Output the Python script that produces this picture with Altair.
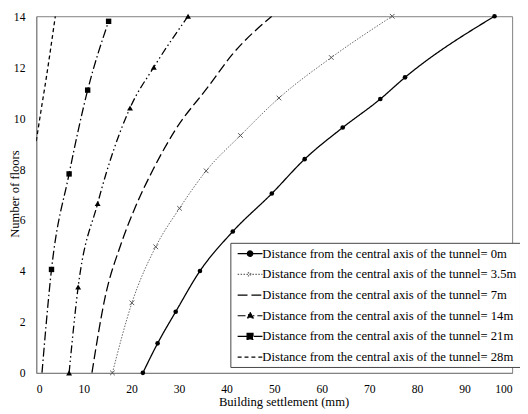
import altair as alt
import pandas as pd

# ---------------- data ----------------
SERIES = [
    "Distance from the central axis of the tunnel= 0m",
    "Distance from the central axis of the tunnel= 3.5m",
    "Distance from the central axis of the tunnel= 7m",
    "Distance from the central axis of the tunnel= 14m",
    "Distance from the central axis of the tunnel= 21m",
    "Distance from the central axis of the tunnel= 28m",
]

S0_X = [22.4, 25.5, 29.3, 34.4, 41.3, 49.5, 56.4, 64.4, 72.3, 77.5, 96.3]
S0_Y = [0.0, 1.16, 2.4, 4.0, 5.55, 7.04, 8.39, 9.63, 10.75, 11.6, 14.0]

S35_X = [16.0, 20.1, 25.1, 30.1, 35.7, 42.9, 51.0, 62.0, 74.8]
S35_Y = [0.0, 2.75, 4.95, 6.46, 7.93, 9.32, 10.79, 12.38, 14.0]

S7_X = [11.7, 14.5, 17.7, 20.8, 24.6, 29.1, 36.2, 41.2, 49.5]
S7_Y = [0.0, 3.0, 5.0, 6.5, 8.0, 9.5, 11.25, 12.5, 14.0]

S14_X = [6.9, 8.8, 12.9, 19.7, 24.7, 31.9]
S14_Y = [0.0, 3.37, 6.65, 10.4, 12.0, 14.0]

S21_X = [1.2, 3.2, 6.9, 10.8, 15.2]
S21_Y = [0.0, 4.06, 7.81, 11.1, 13.8]

S28_X = [0.0, 1.0, 2.07, 3.0, 4.0]
S28_Y = [9.1, 10.3, 11.54, 12.7, 14.0]

X_TICKS = [0, 10, 20, 30, 40, 50, 60, 70, 80, 90, 100]
Y_TICKS = [0, 2, 4, 6, 8, 10, 12, 14]

# ---------------- styles ----------------
STROKES = ["#000000", "#666666", "#000000", "#000000", "#000000", "#000000"]
DASHES = [[1, 0], [1.5, 1.5], [10, 4], [8, 3, 1.5, 3, 1.5, 3], [9, 3, 1.5, 3], [4, 3]]

LEG_LINE = "M-1.8,0L1.8,0"
LEG_CIRCLE = ("M0.4,0L0.35,0.2L0.2,0.35L0,0.4L-0.2,0.35L-0.35,0.2L-0.4,0"
              "L-0.35,-0.2L-0.2,-0.35L0,-0.4L0.2,-0.35L0.35,-0.2Z")
LEG_SHAPES = [
    LEG_LINE + LEG_CIRCLE,
    LEG_LINE + "M-0.3,-0.3L0.3,0.3M-0.3,0.3L0.3,-0.3",
    LEG_LINE,
    LEG_LINE + "M0,-0.5L0.45,0.3L-0.45,0.3Z",
    LEG_LINE + "M-0.43,-0.43L0.43,-0.43L0.43,0.43L-0.43,0.43Z",
    LEG_LINE,
]

rows = []
for name, xs, ys in zip(SERIES, [S0_X, S35_X, S7_X, S14_X, S21_X, S28_X],
                        [S0_Y, S35_Y, S7_Y, S14_Y, S21_Y, S28_Y]):
    for i, (xv, yv) in enumerate(zip(xs, ys)):
        rows.append({"series": name, "x": xv, "y": yv, "i": i})
df = pd.DataFrame(rows)

FONT = "Liberation Serif"

x_enc = alt.X("x:Q", scale=alt.Scale(domain=[0, 100], nice=False),
              axis=alt.Axis(values=X_TICKS, title="Building settlement  (mm)", grid=False, ticks=False,
                            labelPadding=10.5, labelFontSize=11.8, titleFontSize=12.8,
                            titleFontWeight="normal", titleX=251, titleY=33,
                            titleBaseline="alphabetic", domainColor="#808080",
                            labelColor="#000", titleColor="#000", labelFont=FONT, titleFont=FONT))
y_enc = alt.Y("y:Q", scale=alt.Scale(domain=[0, 14], nice=False),
              axis=alt.Axis(values=Y_TICKS, title="Number of floors", grid=False, ticks=False,
                            labelPadding=11.5, labelFontSize=11.8, titleFontSize=12.8,
                            titleFontWeight="normal", titleX=-18, titleY=180,
                            titleBaseline="alphabetic", titleAngle=-90, domainColor="#808080",
                            labelColor="#000", titleColor="#000", labelFont=FONT, titleFont=FONT))

LEG = alt.Legend(
    title=None, orient="none", legendX=197, legendY=230, padding=3,
    strokeColor="#444444", fillColor="white",
    labelFont=FONT, labelFontSize=12.8, labelColor="#000", labelLimit=500,
    symbolSize=196, symbolStrokeWidth=1.2, symbolOffset=9, labelOffset=4.5,
    rowPadding=6,
)

stroke_enc = alt.Stroke("series:N", scale=alt.Scale(domain=SERIES, range=STROKES), legend=LEG)
dash_enc = alt.StrokeDash("series:N", scale=alt.Scale(domain=SERIES, range=DASHES), legend=LEG)

base = alt.Chart(df)

leg_df = pd.DataFrame({"series": SERIES})
legend_layer = alt.Chart(leg_df).mark_point(filled=False, opacity=1).encode(
    x=alt.value(-2000), y=alt.value(-2000),
    shape=alt.Shape("series:N", scale=alt.Scale(domain=SERIES, range=LEG_SHAPES), legend=LEG),
    fill=alt.Fill("series:N", scale=alt.Scale(domain=SERIES, range=STROKES), legend=LEG),
    stroke=stroke_enc,
    strokeDash=dash_enc,
)

lines_main = base.transform_filter(alt.datum.series != SERIES[1]).mark_line(
    interpolate="monotone", clip=True, strokeWidth=1.3).encode(
    x=x_enc, y=y_enc, stroke=stroke_enc, strokeDash=dash_enc, order=alt.Order("i:Q"),
)
lines_35 = base.transform_filter(alt.datum.series == SERIES[1]).mark_line(
    interpolate="monotone", clip=True, strokeWidth=1.0).encode(
    x="x:Q", y="y:Q", stroke=stroke_enc, strokeDash=dash_enc, order=alt.Order("i:Q"),
)

circles = base.transform_filter(alt.datum.series == SERIES[0]).mark_point(
    shape="circle", size=22, filled=True, color="black", opacity=1).encode(x="x:Q", y="y:Q")
crosses = base.transform_filter(alt.datum.series == SERIES[1]).mark_point(
    shape="M-1,-1L1,1M-1,1L1,-1", size=22, filled=False, stroke="#555555", strokeWidth=1,
    opacity=1).encode(x="x:Q", y="y:Q")
triangles = base.transform_filter(alt.datum.series == SERIES[3]).mark_point(
    shape="triangle-up", size=36, filled=True, color="black", opacity=1).encode(x="x:Q", y="y:Q")
squares = base.transform_filter(
    (alt.datum.series == SERIES[4]) & (alt.datum.y > 0)).mark_point(
    shape="square", size=30, filled=True, color="black", opacity=1).encode(x="x:Q", y="y:Q")

chart = alt.layer(lines_main, legend_layer, lines_35, circles, crosses, triangles, squares).properties(
    width=483, height=362,
    autosize=alt.AutoSizeParams(type="none"),
    padding={"left": 28.7, "top": 5.3, "right": 8, "bottom": 40},
).configure(font=FONT).configure_view(
    stroke="#808080", strokeWidth=1
)

chart.save("out.html", embed_options={"renderer": "svg", "actions": False})
